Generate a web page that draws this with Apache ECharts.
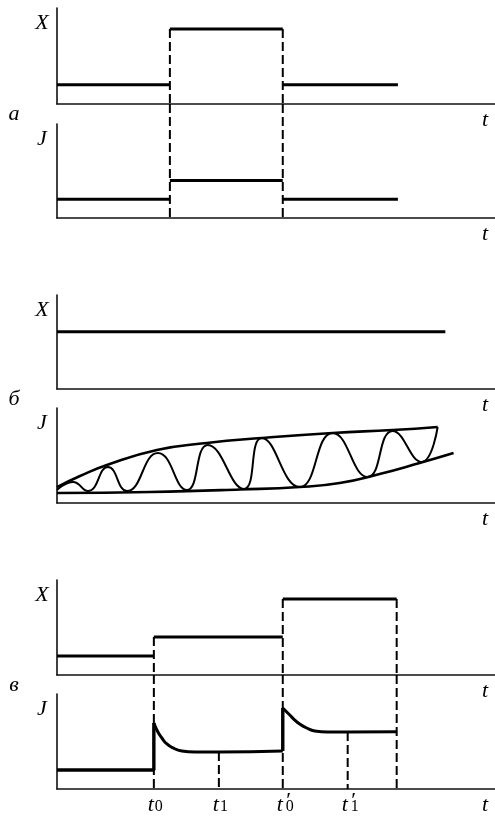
<!DOCTYPE html>
<html>
<head>
<meta charset="utf-8">
<script src="https://cdn.jsdelivr.net/npm/echarts@6/dist/echarts.min.js"></script>
<style>
  html, body { margin: 0; padding: 0; background: #fff; }
  #chart { width: 495px; height: 816px; }
</style>
</head>
<body>
<div id="chart"></div>
<script>
// time axis, arbitrary units
const T_MAX = 3.88;
const Y_MAX = 10;

// panel а: rectangular pulse of X and the step of J
const aSteps = [0, 1.0, 2.0, 3.02];
const aX = [2.0, 7.8, 2.0];
const aJ = [2.0, 4.0, 2.0];

// panel б: constant X, growing oscillations of J
const bXEnd = 3.44;
const bX = 6.1;
const bUpper = [[0, 1.68], [0.204, 2.84], [0.442, 4.0], [0.885, 5.58], [1.327, 6.32], [1.814, 6.84], [2.442, 7.37], [2.973, 7.68], [3.372, 8.0]];
const bLower = [[0, 1.05], [0.823, 1.16], [1.619, 1.42], [2.15, 1.68], [2.504, 2.11], [2.858, 3.05], [3.212, 4.21], [3.513, 5.26]];
const bWave = [[0, 1.37], [0.142, 2.21], [0.274, 1.26], [0.451, 3.79], [0.619, 1.26], [0.894, 5.26], [1.15, 1.37], [1.336, 6.11], [1.655, 1.47], [1.814, 6.84], [2.15, 1.68], [2.442, 7.37], [2.752, 2.74], [2.973, 7.58], [3.23, 4.32], [3.372, 8.0]];

// panel в: two steps of X, J overshoots and relaxes
const vSteps = [0, 0.858, 2.0, 3.009];
const vX = [2.0, 4.0, 8.0];
const vJBase = 2.0;
const vDecay1 = [[0.858, 6.95], [0.894, 6.0], [0.929, 5.37], [0.973, 4.74], [1.027, 4.32], [1.106, 4.0], [1.221, 3.89], [1.434, 3.89], [2.0, 4.0]];
const vDecay2 = [[2.0, 8.53], [2.062, 7.79], [2.106, 7.26], [2.15, 6.84], [2.212, 6.42], [2.283, 6.11], [2.398, 6.0], [2.575, 6.0], [3.009, 6.03]];
const vMarkT = [1.434, 2.575];
const vMarkJ = [3.89, 6.0];
const vLabelT = [0.858, 1.434, 2.0, 2.575];
const vLabelSub = ['0', '1', '0', '1'];
const vLabelPrime = [false, false, true, true];

const panelNames = ['а', 'б', 'в'];

// layout
const LEFT = 57;
const grids = [
  { top: 8, height: 96 },
  { top: 124, height: 94 },
  { top: 295, height: 94 },
  { top: 408, height: 95 },
  { top: 580, height: 95 },
  { top: 694, height: 95 }
];
const FONT = 'Liberation Serif';
const DASH = [9, 4];

const chart = echarts.init(document.getElementById('chart'));

// value on a J-grid y axis that reaches up to the X-grid axis above it
const reachUp = i => {
  const gap = grids[i].top - (grids[i - 1].top + grids[i - 1].height);
  return Y_MAX * (1 + gap / grids[i].height);
};

const series = [];
const line = (gi, data, extra) => {
  series.push(Object.assign({
    type: 'line',
    xAxisIndex: gi,
    yAxisIndex: gi,
    data: data,
    symbol: 'none',
    silent: true,
    animation: false,
    lineStyle: { color: '#000', width: 3 }
  }, extra || {}));
};
const dashed = (gi, t, from, to) => {
  line(gi, [[t, from], [t, to]], {
    clip: false,
    z: 1,
    lineStyle: { color: '#000', width: 2, type: DASH }
  });
};

// а
aX.forEach((v, i) => line(0, [[aSteps[i], v], [aSteps[i + 1], v]]));
aJ.forEach((v, i) => line(1, [[aSteps[i], v], [aSteps[i + 1], v]]));
[1, 2].forEach(i => {
  dashed(0, aSteps[i], Math.max(aX[i - 1], aX[i]), 0);
  dashed(1, aSteps[i], reachUp(1), 0);
});

// б
line(2, [[0, bX], [bXEnd, bX]]);
line(3, bUpper, { smooth: 0.5, lineStyle: { color: '#000', width: 2.6 } });
line(3, bLower, { smooth: 0.5, lineStyle: { color: '#000', width: 2.6 } });
line(3, bWave, { smooth: 0.5, lineStyle: { color: '#000', width: 2 } });

// в
vX.forEach((v, i) => line(4, [[vSteps[i], v], [vSteps[i + 1], v]]));
line(5, [[0, vJBase], [vSteps[1], vJBase], vDecay1[0]], { lineStyle: { color: '#000', width: 3.4 } });
line(5, vDecay1, { smooth: 0.5 });
line(5, [vDecay1[vDecay1.length - 1], vDecay2[0]], { lineStyle: { color: '#000', width: 3.4 } });
line(5, vDecay2, { smooth: 0.5 });
[1, 2, 3].forEach(i => {
  const top = i < vX.length ? Math.max(vX[i - 1], vX[i]) : vX[i - 1];
  dashed(4, vSteps[i], top, 0);
  dashed(5, vSteps[i], reachUp(5), 0);
});
vMarkT.forEach((t, i) => dashed(5, t, vMarkJ[i], 0));

const axisLine = { show: true, onZero: false, lineStyle: { color: '#111', width: 1.6 } };
const hidden = { axisTick: { show: false }, axisLabel: { show: false }, splitLine: { show: false } };

chart.setOption({
  animation: false,
  backgroundColor: '#fff',
  grid: grids.map(g => ({ left: LEFT, right: 0, top: g.top, height: g.height })),
  xAxis: grids.map((g, i) => Object.assign({ type: 'value', gridIndex: i, min: 0, max: T_MAX, axisLine: axisLine }, hidden)),
  yAxis: grids.map((g, i) => Object.assign({ type: 'value', gridIndex: i, min: 0, max: Y_MAX, axisLine: axisLine }, hidden)),
  series: series
});

// labels
const txt = (x, y, text, size, italic) => ({
  type: 'text',
  x: x,
  y: y,
  silent: true,
  style: {
    text: text,
    fill: '#000',
    fontFamily: FONT,
    fontSize: size,
    fontStyle: italic ? 'italic' : 'normal',
    align: 'center',
    verticalAlign: 'middle'
  }
});
const graphic = [];
grids.forEach((g, i) => {
  graphic.push(txt(42, g.top + 15, i % 2 === 0 ? 'X' : 'J', 22, true));
  graphic.push(txt(485, g.top + g.height + 16, 't', 22, true));
  if (i % 2 === 0) graphic.push(txt(14, g.top + g.height + 10, panelNames[i / 2], 22, true));
});
vLabelT.forEach((t, i) => {
  const px = chart.convertToPixel({ gridIndex: 5 }, [t, 0]);
  const y = px[1] + 16;
  graphic.push(txt(px[0] - 3, y, 't', 22, true));
  graphic.push(txt(px[0] + (vLabelPrime[i] ? 7 : 5), y + 2, vLabelSub[i], 16, false));
  if (vLabelPrime[i]) graphic.push(txt(px[0] + 6, y - 4, '′', 22, false));
});
chart.setOption({ graphic: graphic });
</script>
</body>
</html>
